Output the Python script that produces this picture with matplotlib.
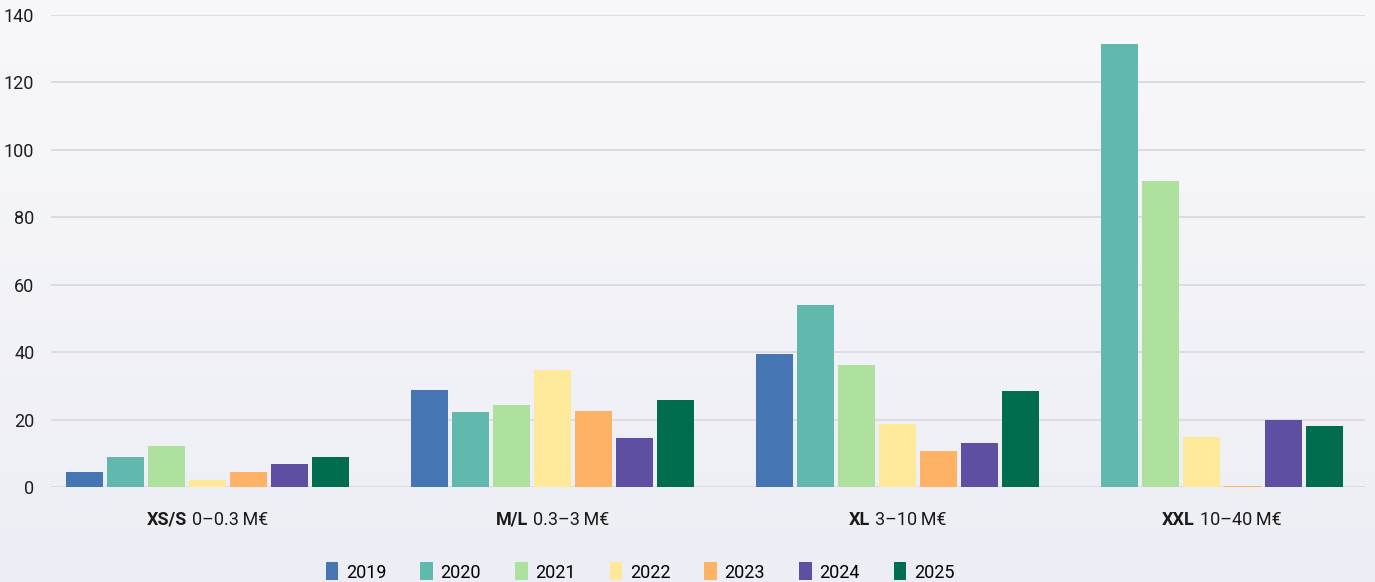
import numpy as np
import matplotlib
matplotlib.use("Agg")
import matplotlib.pyplot as plt
from matplotlib.patches import Patch
from matplotlib.offsetbox import TextArea, HPacker, AnnotationBbox

plt.rcParams['font.family'] = ['Roboto', 'DejaVu Sans']

# data
sizes_bold = ["XS/S", "M/L", "XL", "XXL"]
sizes_range = ["0–0.3\u2009M€", "0.3–3\u2009M€", "3–10\u2009M€", "10–40\u2009M€"]
years = ["2019", "2020", "2021", "2022", "2023", "2024", "2025"]
v2019 = [4.5, 28.7, 39.5, None]
v2020 = [8.9, 22.2, 54.0, 131.3]
v2021 = [12.2, 24.3, 36.2, 90.7]
v2022 = [2.2, 34.7, 18.6, 14.8]
v2023 = [4.5, 22.5, 10.7, 0.4]
v2024 = [6.9, 14.5, 13.0, 19.8]
v2025 = [8.9, 25.8, 28.6, 18.0]
series = [v2019, v2020, v2021, v2022, v2023, v2024, v2025]
colors = ["#4575b2", "#61b8ad", "#afe19e", "#fee89a", "#fdb266", "#5e4fa2", "#006d4f"]
yticks = [0, 20, 40, 60, 80, 100, 120, 140]

W, H = 1375, 582
fig = plt.figure(figsize=(W / 100, H / 100), dpi=100)

# soft vertical gradient background
bg = fig.add_axes([0, 0, 1, 1], zorder=-10)
grad = np.linspace(0, 1, 256).reshape(-1, 1)
top = np.array([248, 248, 251]) / 255
bot = np.array([237, 238, 245]) / 255
img = top + (bot - top) * grad[:, :, None]
bg.imshow(img, aspect="auto", extent=[0, 1, 0, 1])
bg.set_axis_off()

ax = fig.add_axes([51 / W, (H - 487) / H, 1314 / W, 472 / H])
ax.patch.set_alpha(0)

gap = 1.415
start = 0.0
centers = []
for g in range(len(sizes_bold)):
    present = [i for i, s in enumerate(series) if s[g] is not None]
    xs = []
    for k, i in enumerate(present):
        x = start + k
        xs.append(x)
        ax.bar(x, series[i][g], width=0.9, color=colors[i], zorder=3)
    centers.append(np.mean(xs))
    start += len(present) + gap

ax.set_xlim(-0.817, 31.23)
ax.set_ylim(0, 140)
ax.set_yticks(yticks)
ax.set_xticks([])
ax.yaxis.grid(True, color="#d9d9de", linewidth=1.3, zorder=0)
ax.set_axisbelow(True)
for sp in ax.spines.values():
    sp.set_visible(False)
ax.tick_params(axis="y", length=0, pad=12, labelsize=13, labelcolor="#1e1e1e")

# category labels: bold size + regular range
for c, b, r in zip(centers, sizes_bold, sizes_range):
    ta1 = TextArea(b, textprops=dict(fontsize=13, fontweight="bold", color="#1a1a1a"))
    ta2 = TextArea(r, textprops=dict(fontsize=13, color="#1a1a1a"))
    box = HPacker(children=[ta1, ta2], align="baseline", pad=0, sep=4)
    ab = AnnotationBbox(box, (c, (H - 520) / H), xycoords=("data", "figure fraction"),
                        frameon=False, box_alignment=(0.5, 0.5), annotation_clip=False)
    ax.add_artist(ab)

handles = [Patch(facecolor=c, edgecolor="none", label=y) for c, y in zip(colors, years)]
fig.legend(handles=handles, loc="center", bbox_to_anchor=(640 / W, (H - 572) / H), ncol=7,
           frameon=False, fontsize=13, handlelength=0.7, handleheight=1.15,
           handletextpad=0.4, columnspacing=1.9, borderpad=0)

fig.savefig("out.png", dpi=100)
